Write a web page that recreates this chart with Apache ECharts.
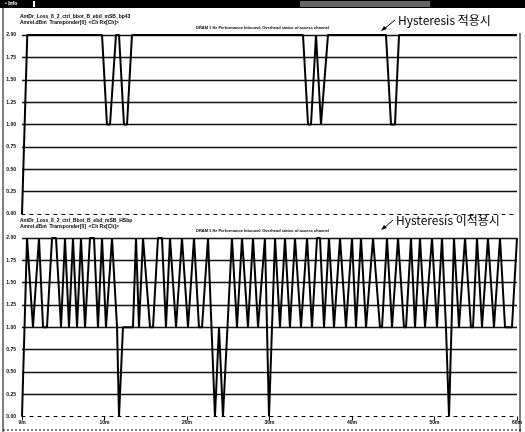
<!DOCTYPE html>
<html lang="ko">
<head>
<meta charset="UTF-8">
<title>Hysteresis</title>
<script src="https://cdn.jsdelivr.net/npm/echarts@6/dist/echarts.min.js"></script>
<style>html,body{margin:0;padding:0;background:#fff}</style>
</head>
<body>
<div id="myChart" style="width:525px;height:432px"></div>
<script>
// 시간축 (m)
var xTicks = [0, 10, 20, 30, 40, 50, 60];

// 위: Hysteresis 적용시
var withT = [0, 0.64, 9.70, 10.30, 10.67, 11.39, 11.76, 12.36, 12.73, 13.33,
             34.06, 34.67, 35.03, 35.64, 36.24, 36.48, 37.09,
             44.12, 44.73, 45.21, 45.70, 60];
var withV = [0, 2, 2, 1, 1, 2, 2, 1, 1, 2,
             2, 1, 1, 2, 1, 1, 2,
             2, 1, 1, 2, 2];

// 아래: Hysteresis 이적용시
var noT = [0, 0.61, 1.33, 2.06, 2.55, 3.03, 3.64, 4.12, 4.73, 5.21,
           5.70, 6.18, 6.67, 7.15, 7.64, 8.24, 8.73, 9.21, 9.70, 10.18,
           10.42, 10.91, 11.15, 11.52, 11.76, 12.24, 13.45, 13.82, 14.18, 14.67,
           15.52, 15.88, 16.48, 16.97, 17.45, 17.94, 18.67, 18.91, 19.39, 20.12,
           20.85, 21.45, 21.82, 22.55, 23.39, 23.88, 24.36, 25.45, 26.06, 26.67,
           27.39, 28.00, 28.61, 28.85, 29.45, 29.94, 30.67, 31.27, 31.88, 32.48,
           33.09, 33.82, 34.55, 35.15, 35.76, 36.12, 36.61, 37.21, 37.82, 38.06,
           38.55, 39.27, 40.00, 40.48, 41.09, 41.70, 41.94, 42.55, 43.39, 43.64,
           44.24, 44.85, 45.09, 45.58, 46.30, 46.55, 47.15, 47.64, 48.24, 48.85,
           49.09, 49.70, 50.30, 50.91, 51.39, 51.76, 52.36, 52.97, 53.21, 53.70,
           54.42, 54.67, 55.15, 55.76, 56.00, 56.48, 57.21, 57.45, 57.94, 58.55,
           59.39, 60.00];
var noV = [0, 2, 1, 2, 1, 1, 2, 2, 1, 2,
           1, 2, 1, 2, 1, 2, 2, 1, 2, 1,
           1, 2, 2, 1, 0, 1, 1, 2, 1, 2,
           1, 1, 2, 2, 1, 2, 1, 1, 2, 1,
           2, 1, 1, 2, 0, 1, 0, 2, 1, 2,
           1, 2, 1, 1, 2, 0, 2, 1, 2, 1,
           2, 1, 2, 1, 2, 2, 1, 2, 1, 1,
           2, 1, 2, 1, 2, 1, 1, 2, 1, 1,
           2, 1, 1, 2, 1, 1, 2, 1, 2, 1,
           1, 2, 1, 2, 1, 0, 2, 1, 1, 2,
           1, 1, 2, 1, 1, 2, 1, 1, 2, 1,
           1, 2];

function zip(t, v) {
    return t.map(function (x, i) { return [x, v[i]]; });
}

var small = {fontSize: 5, fontWeight: 'bold', fontFamily: 'Liberation Sans', color: '#000'};

function xAx(idx, showLabel) {
    return {
        type: 'value', gridIndex: idx, min: xTicks[0], max: xTicks[xTicks.length - 1], interval: 10,
        axisLine: {show: true, lineStyle: {color: '#000', width: 1, type: [3, 5]}},
        axisTick: {show: showLabel, length: 4, lineStyle: {color: '#000'}},
        axisLabel: {show: showLabel, margin: 4, fontSize: 5, fontWeight: 'bold', color: '#000',
            formatter: function (v) { return v + 'm'; }},
        splitLine: {show: false}
    };
}
function yAx(idx) {
    return {
        type: 'value', gridIndex: idx, min: 0, max: 2, interval: 0.25,
        axisLine: {show: false}, axisTick: {show: false},
        axisLabel: {margin: 6, fontSize: 5, fontWeight: 'bold', color: '#000',
            formatter: function (v) { return v.toFixed(2); }},
        splitLine: {show: true, showMinLine: false, lineStyle: {color: '#111', width: 1.3}}
    };
}

var myChart = echarts.init(document.getElementById('myChart'));
myChart.setOption({
    animation: false,
    backgroundColor: '#fff',
    grid: [
        {left: 22, right: 8, top: 35, height: 179},
        {left: 22, right: 8, top: 238, height: 178.5}
    ],
    xAxis: [xAx(0, false), xAx(1, true)],
    yAxis: [yAx(0), yAx(1)],
    series: [
        {type: 'line', xAxisIndex: 0, yAxisIndex: 0, showSymbol: false,
         lineStyle: {color: '#000', width: 2}, data: zip(withT, withV)},
        {type: 'line', xAxisIndex: 1, yAxisIndex: 1, showSymbol: false,
         lineStyle: {color: '#000', width: 2}, data: zip(noT, noV)}
    ],
    graphic: [
        // 창 제목 줄
        {type: 'rect', shape: {x: 0, y: 0, width: 525, height: 8}, style: {fill: '#000'}},
        {type: 'text', x: 5, y: 1, style: {text: '• Info', fill: '#fff', font: 'bold 5px Liberation Sans'}},
        {type: 'rect', shape: {x: 33, y: 1, width: 2, height: 6}, style: {fill: '#fff'}},
        {type: 'rect', shape: {x: 300, y: 1, width: 130, height: 6}, style: {fill: '#666'}},
        // 테두리
        {type: 'line', shape: {x1: 3, y1: 8, x2: 3, y2: 432}, style: {stroke: '#000', lineWidth: 1}},
        {type: 'line', shape: {x1: 520, y1: 33, x2: 520, y2: 432}, style: {stroke: '#000', lineWidth: 1}},
        {type: 'line', shape: {x1: 3, y1: 430, x2: 522, y2: 430}, style: {stroke: '#000', lineWidth: 1, lineDash: [2, 2]}},
        // 위 패널 머리글
        {type: 'text', x: 20, y: 14, style: {text: 'AntDr_Loss_8_2_ctrl_bbot_B_ebd_mSB_bp43', fill: '#000', font: 'bold 5px Liberation Sans'}},
        {type: 'text', x: 20, y: 20, style: {text: 'Amrel.dBm  Transponder[0]  <Ch Rx[Ch]>', fill: '#000', font: 'bold 5px Liberation Sans'}},
        {type: 'text', x: 196, y: 26, style: {text: 'DRAM 1 Hz Performance Inbound: Overhead status of access channel', fill: '#000', font: 'bold 4px Liberation Sans'}},
        {type: 'text', x: 398, y: 14, style: {text: 'Hysteresis 적용시', fill: '#000', font: '12px Noto Sans CJK KR'}},
        {type: 'line', shape: {x1: 395, y1: 20, x2: 384, y2: 29}, style: {stroke: '#000', lineWidth: 1}},
        {type: 'polygon', shape: {points: [[381, 31], [387, 29], [384, 26]]}, style: {fill: '#000'}},
        // 아래 패널 머리글
        {type: 'text', x: 20, y: 218, style: {text: 'AntDr_Loss_8_2_ctrl_Bbot_B_ebd_mSB_HSbp', fill: '#000', font: 'bold 5px Liberation Sans'}},
        {type: 'text', x: 20, y: 224, style: {text: 'Amrel.dBm  Transponder[0]  <Ch Rx[Ch]>', fill: '#000', font: 'bold 5px Liberation Sans'}},
        {type: 'text', x: 196, y: 229, style: {text: 'DRAM 1 Hz Performance Inbound: Overhead status of access channel', fill: '#000', font: 'bold 4px Liberation Sans'}},
        {type: 'text', x: 396, y: 214, style: {text: 'Hysteresis 이적용시', fill: '#000', font: '12px Noto Sans CJK KR'}},
        {type: 'line', shape: {x1: 393, y1: 220, x2: 384, y2: 228}, style: {stroke: '#000', lineWidth: 1}},
        {type: 'polygon', shape: {points: [[381, 230], [387, 228], [384, 225]]}, style: {fill: '#000'}}
    ]
});
</script>
</body>
</html>
